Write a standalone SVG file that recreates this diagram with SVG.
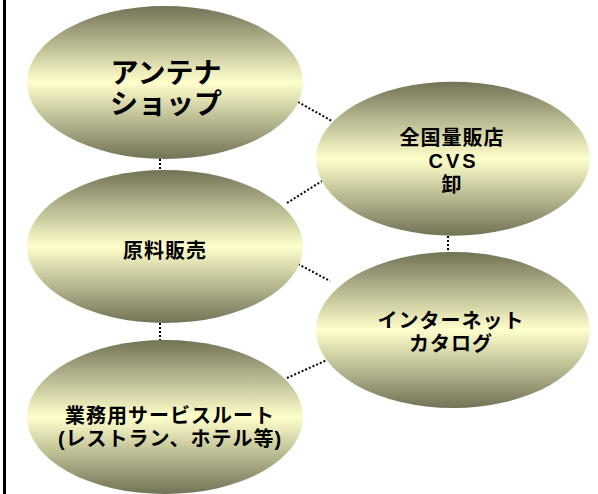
<svg xmlns="http://www.w3.org/2000/svg" width="598" height="494" viewBox="0 0 598 494">
<defs>
<linearGradient id="g" x1="0" y1="0" x2="0" y2="1">
<stop offset="0" stop-color="#727256"/>
<stop offset="0.5" stop-color="#FFFFCC"/>
<stop offset="1" stop-color="#727256"/>
</linearGradient>
</defs>
<style>
.n{fill:url(#g);stroke:none}
.t{font-family:"Liberation Sans","Noto Sans CJK JP",sans-serif;font-weight:bold;font-size:20px;letter-spacing:1px;fill:#000;text-anchor:middle}
.big{font-size:28px;letter-spacing:0}
.lat{letter-spacing:3px}
.c{stroke:#000;stroke-width:2;stroke-dasharray:2 2;fill:none}
</style>
<rect width="598" height="494" fill="#fff"/>
<line x1="4.5" y1="0" x2="4.5" y2="494" stroke="#000" stroke-width="3"/>
<g id="connectors">
<line class="c" x1="160" y1="159" x2="160" y2="170"/>
<line class="c" x1="160" y1="323" x2="160" y2="340"/>
<line class="c" x1="448" y1="236" x2="448" y2="253"/>
<line class="c" x1="298" y1="102" x2="332" y2="121"/>
<line class="c" x1="287" y1="203" x2="322" y2="181"/>
<line class="c" x1="298" y1="264" x2="330" y2="281"/>
<line class="c" x1="287" y1="378" x2="327" y2="360"/>
</g>
<g id="antenna">
<ellipse class="n" cx="165" cy="82.5" rx="138" ry="76.5"/>
<text class="t big" x="166" y="83">アンテナ<tspan x="166" dy="31">ショップ</tspan></text>
</g>
<g id="genryo">
<ellipse class="n" cx="165" cy="246.5" rx="138" ry="76.5"/>
<text class="t" x="165" y="258">原料販売</text>
</g>
<g id="gyomu">
<ellipse class="n" cx="165" cy="417" rx="138" ry="77"/>
<text class="t" x="170" y="423">業務用サービスルート<tspan x="170" dy="23">(レストラン、ホテル等)</tspan></text>
</g>
<g id="ryohan">
<ellipse class="n" cx="453" cy="158.7" rx="137" ry="77"/>
<text class="t" x="452" y="145">全国量販店<tspan class="lat" x="453.5" dy="23">CVS</tspan><tspan x="452" dy="24">卸</tspan></text>
</g>
<g id="internet">
<ellipse class="n" cx="453" cy="330" rx="137" ry="78"/>
<text class="t" x="451" y="328">インターネット<tspan x="451" dy="23">カタログ</tspan></text>
</g>
</svg>
